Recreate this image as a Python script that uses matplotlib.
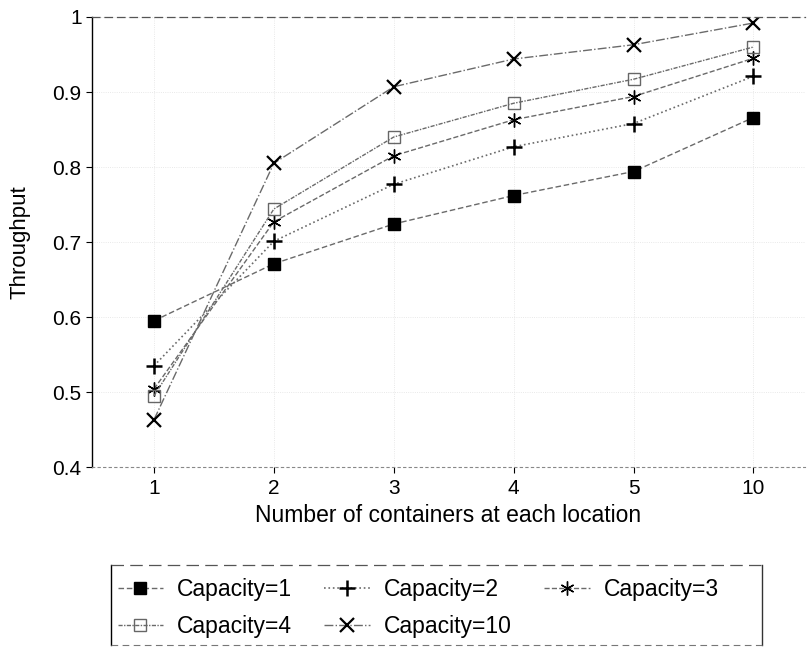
import matplotlib
matplotlib.use("Agg")
import matplotlib.pyplot as plt
from matplotlib.lines import Line2D

plt.rcParams['font.family'] = ['Liberation Sans', 'DejaVu Sans']

x_labels = ["1", "2", "3", "4", "5", "10"]
cap1 = [0.595, 0.671, 0.724, 0.762, 0.794, 0.866]
cap2 = [0.535, 0.701, 0.777, 0.827, 0.858, 0.921]
cap3 = [0.504, 0.727, 0.815, 0.863, 0.894, 0.945]
cap4 = [0.495, 0.744, 0.840, 0.885, 0.917, 0.960]
cap10 = [0.463, 0.805, 0.907, 0.944, 0.963, 0.992]
series_names = ["Capacity=1", "Capacity=2", "Capacity=3", "Capacity=4", "Capacity=10"]
y_ticks = [0.4, 0.5, 0.6, 0.7, 0.8, 0.9, 1.0]
y_tick_labels = ["0.4", "0.5", "0.6", "0.7", "0.8", "0.9", "1"]

W, H = 809, 648
fig = plt.figure(figsize=(W/100, H/100), dpi=100)
ax = fig.add_axes([92/W, 1-467/H, (805-92)/W, (467-17)/H])

pos = list(range(1, len(x_labels) + 1))
lc = '#6a6a6a'
styles = [
    dict(marker='s', ms=9, mfc='black', mec='black', ls=(0, (4, 2)), lw=1.0),
    dict(marker='+', ms=11, mec='black', mew=1.8, ls=':', lw=1.2),
    dict(marker=(6, 2, 0), ms=10, mec='black', mew=1.0, ls='--', lw=1.0),
    dict(marker='s', ms=9, mfc='none', mec='#666666', mew=1.0, ls=(0, (3, 1, 1, 1)), lw=1.0),
    dict(marker='x', ms=10, mec='black', mew=1.6, ls='-.', lw=1.0),
]
handles = []
for vals, name, st in zip([cap1, cap2, cap3, cap4, cap10], series_names, styles):
    h, = ax.plot(pos, vals, color=lc, label=name, **st)
    handles.append(h)

ax.set_xlim(0.483, 6.43)
ax.set_ylim(0.4, 1.0)
ax.set_xticks(pos)
ax.set_xticklabels(x_labels)
ax.set_yticks(y_ticks)
ax.set_yticklabels(y_tick_labels)
ax.tick_params(axis='both', labelsize=15, length=4, width=0.8, direction='out', colors='black')
ax.tick_params(axis='x', pad=5)
ax.set_xlabel("Number of containers at each location", fontsize=16.5, labelpad=4)
ax.set_ylabel("Throughput", fontsize=16)
ax.yaxis.set_label_coords((31-92)/(805-92), 0.5)

ax.grid(True, color='#e2e2e2', linestyle=':', linewidth=0.6)
ax.spines['left'].set_color('black')
ax.spines['left'].set_linewidth(1.0)
ax.spines['top'].set_color('#555555')
ax.spines['top'].set_linestyle((0, (6, 4)))
ax.spines['top'].set_linewidth(0.9)
ax.spines['bottom'].set_color('#888888')
ax.spines['bottom'].set_linestyle((0, (2, 3)))
ax.spines['bottom'].set_linewidth(0.8)
ax.spines['right'].set_visible(False)

# legend frame drawn by hand (left/right solid, top/bottom broken)
fx0, fx1 = 111/W, 762/W
fy0, fy1 = 1-645/H, 1-565/H
fig.add_artist(Line2D([fx0, fx0], [fy0, fy1], color='black', lw=1.0))
fig.add_artist(Line2D([fx1, fx1], [fy0, fy1], color='#333333', lw=1.0))
fig.add_artist(Line2D([fx0, fx1], [fy1, fy1], color='#555555', lw=0.9, ls=(0, (10, 5))))
fig.add_artist(Line2D([fx0, fx1], [fy0, fy0], color='#777777', lw=0.8, ls=(0, (6, 4))))

order = [0, 3, 1, 4, 2]
leg = fig.legend([handles[i] for i in order], [series_names[i] for i in order],
                 loc='upper left', bbox_to_anchor=(113/W, 1-573/H),
                 ncol=3, fontsize=16.5, handlelength=2.0, handletextpad=0.6,
                 columnspacing=1.4, borderaxespad=0.0, borderpad=0.2,
                 frameon=False, labelspacing=0.65)

fig.savefig("out.png", dpi=100)
